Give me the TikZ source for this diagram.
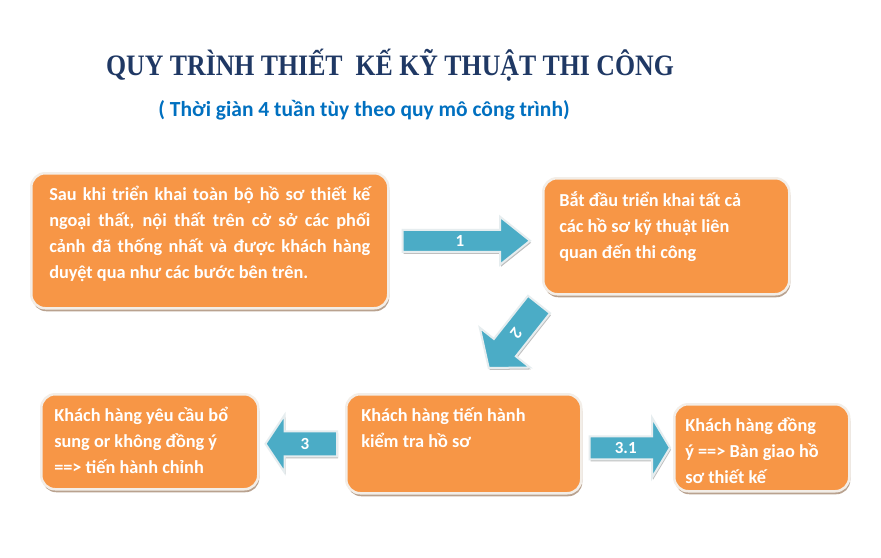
\documentclass[tikz,border=0pt]{standalone}
\usepackage{fontspec}
\setmainfont{Carlito}
\newfontfamily\titlefont{Liberation Serif}
\usetikzlibrary{calc,shadows}
\definecolor{boxorange}{HTML}{F79646}
\definecolor{boxrim}{HTML}{F3EEE8}
\definecolor{boxshade}{HTML}{A88B74}
\definecolor{arrowblue}{HTML}{4BACC6}
\definecolor{arrowrim}{HTML}{E6EDEF}
\definecolor{titleblue}{HTML}{1F3864}
\definecolor{subblue}{HTML}{0070C0}

\begin{document}
\begin{tikzpicture}[x=1pt, y=-1pt,
  box/.style={draw=boxrim, line width=2.5pt, fill=boxorange, rounded corners=14pt,
    anchor=north west, inner ysep=13pt, text=white,
    font=\bfseries\fontsize{18.3}{26}\selectfont,
    drop shadow={shadow xshift=1pt, shadow yshift=-3pt, fill=boxshade, opacity=.8}},
  blockarr/.style={fill=arrowblue, draw=arrowrim, line width=2pt,
    drop shadow={shadow xshift=1pt, shadow yshift=-2pt, fill=gray, opacity=.5}},
  num/.style={text=white, inner sep=0pt, font=\bfseries\fontsize{17}{17}\selectfont}]
  \fill[white] (0,0) rectangle (881,557);
  \node[anchor=base, text=titleblue, font=\titlefont\bfseries\fontsize{25.8}{25.8}\selectfont]
    (title) at (390,75) {\scalebox{1}[1.15]{QUY TRÌNH THIẾT\ \ KẾ KỸ THUẬT THI CÔNG}};
  \node[anchor=base, text=subblue, font=\bfseries\fontsize{21.5}{21.5}\selectfont]
    (sub) at (364,116) {( Thời giàn 4 tuần tùy theo quy mô công trình)};
  \node[box, inner xsep=18pt] (b1) at (30,172) {\parbox[t][109pt][t]{321pt}{Sau khi triển khai toàn bộ hồ sơ thiết kế\linebreak
    ngoại thất, nội thất trên cở sở các phối\linebreak
    cảnh đã thống nhất và được khách hàng\linebreak
    duyệt qua như các bước bên trên.}};
  \node[box, inner xsep=16pt] (b2) at (542,177) {\parbox[t][90pt][t]{214pt}{\raggedright
    Bắt đầu triển khai tất cả\\ các hồ sơ kỹ thuật liên\\ quan đến thi công}};
  \node[box, inner xsep=15pt] (b3) at (345,393) {\parbox[t][73pt][t]{205pt}{\raggedright
    Khách hàng tiến hành\\ kiểm tra hồ sơ}};
  \node[box, inner xsep=13pt] (b4) at (40,393) {\parbox[t][69pt][t]{191pt}{\raggedright
    Khách hàng yêu cầu bổ\\ sung or không đồng ý\\ ==> tiến hành chỉnh}};
  \node[box, inner xsep=11pt] (b5) at (673,403) {\parbox[t][61pt][t]{153pt}{\raggedright
    Khách hàng đồng\\ ý ==> Bàn giao hồ\\ sơ thiết kế}};
  \coordinate (a1s) at ($(b1.east)+(13,0)$);
  \coordinate (a1e) at ([xshift=-12pt]b2.west |- a1s);
  \coordinate (a2s) at ($(b2.south west)+(-3,9)$);
  \coordinate (a2e) at ($(b3.north)+(25,-25)$);
  \coordinate (a3s) at ($(b3.west)+(-8,0)$);
  \coordinate (a3e) at ([xshift=6pt]b4.east |- a3s);
  \coordinate (a4s) at ([xshift=7pt]b3.east |- b5.west);
  \coordinate (a4e) at ($(b5.west)+(-3,0)$);
  \foreach \s/\e/\w/\hw/\hl/\nm/\lab/\rot in {a1s/a1e/11/24/30/n1/1/0,
      a2s/a2e/14/32/26/n2/2/-128, a3s/a3e/12.5/28.5/19/n3/3/0, a4s/a4e/11.5/30/18/n31/3.1/0}
  {
    \coordinate (h) at ($(\e)!\hl pt!(\s)$);
    \draw[blockarr] ($(\s)!\w pt!90:(\e)$) -- ($(h)!\w pt!90:(\e)$) -- ($(h)!\hw pt!90:(\e)$)
      -- (\e) -- ($(h)!\hw pt!-90:(\e)$) -- ($(h)!\w pt!-90:(\e)$) -- ($(\s)!\w pt!-90:(\e)$) -- cycle;
    \node[num, rotate=\rot] (\nm) at ($(\s)!.45!(\e)$) {\lab};
  }
\end{tikzpicture}
\end{document}
